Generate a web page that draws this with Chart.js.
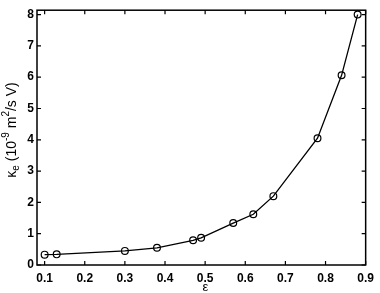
<!DOCTYPE html>
<html><head><meta charset="utf-8">
<script src="https://cdn.jsdelivr.net/npm/chart.js@4/dist/chart.umd.min.js"></script>
<style>html,body{margin:0;padding:0;background:#fff}#wrap{width:380px;height:293px}</style>
</head><body><div id="wrap"><canvas id="c" width="380" height="293"></canvas></div>
<script>
const epsilon = [0.10, 0.13, 0.30, 0.38, 0.47, 0.49, 0.57, 0.62, 0.67, 0.78, 0.84, 0.88];
const kappa   = [0.33, 0.34, 0.45, 0.55, 0.79, 0.87, 1.34, 1.62, 2.20, 4.05, 6.06, 8.00];
const xTicks = [0.1, 0.2, 0.3, 0.4, 0.5, 0.6, 0.7, 0.8, 0.9];
const yTicks = [0, 1, 2, 3, 4, 5, 6, 7, 8];
const xLabel = 'ε';

const frame = {
  id: 'frame',
  afterDraw(chart) {
    const {ctx, chartArea: a, scales: {x, y}} = chart;
    ctx.save();
    ctx.strokeStyle = '#000';
    ctx.lineWidth = 1.5;
    ctx.strokeRect(a.left, a.top, a.right - a.left, a.bottom - a.top);
    ctx.lineWidth = 1.2;
    const L = 4;
    ctx.beginPath();
    xTicks.forEach(v => {
      const px = x.getPixelForValue(v);
      ctx.moveTo(px, a.bottom); ctx.lineTo(px, a.bottom - L);
      ctx.moveTo(px, a.top); ctx.lineTo(px, a.top + L);
    });
    yTicks.forEach(v => {
      const py = y.getPixelForValue(v);
      ctx.moveTo(a.left, py); ctx.lineTo(a.left + L, py);
      ctx.moveTo(a.right, py); ctx.lineTo(a.right - L, py);
    });
    ctx.stroke();
    // x label
    ctx.fillStyle = '#000';
    ctx.font = '13px "Liberation Sans", Arial, sans-serif';
    ctx.textAlign = 'center';
    ctx.textBaseline = 'middle';
    ctx.fillText(xLabel, (a.left + a.right) / 2 + 4, 287);
    // y label with sub/superscripts
    ctx.translate(12, 130);
    ctx.rotate(-Math.PI / 2);
    const parts = [
      ['κ', 14, 0], ['e', 10, 4], [' (10', 14, 0], ['-9', 10, -6], [' m', 14, 0], ['2', 10, -6], ['/s V)', 14, 0]
    ];
    let w = 0;
    parts.forEach(p => { ctx.font = p[1] + 'px "Liberation Sans", Arial, sans-serif'; w += ctx.measureText(p[0]).width; });
    let cx = -w / 2;
    ctx.textAlign = 'left';
    parts.forEach(p => {
      ctx.font = p[1] + 'px "Liberation Sans", Arial, sans-serif';
      ctx.fillText(p[0], cx, p[2]);
      cx += ctx.measureText(p[0]).width;
    });
    ctx.restore();
  }
};

new Chart(document.getElementById('c'), {
  type: 'scatter',
  data: {
    datasets: [{
      data: epsilon.map((e, i) => ({x: e, y: kappa[i]})),
      showLine: true,
      borderColor: '#000',
      borderWidth: 1.3,
      pointRadius: 3.4,
      pointBorderWidth: 1.2,
      pointBorderColor: '#000',
      pointBackgroundColor: 'rgba(0,0,0,0)',
      tension: 0
    }]
  },
  plugins: [frame],
  options: {
    responsive: false,
    animation: false,
    layout: {padding: {top: 4, right: 10, left: 0, bottom: 0}},
    plugins: {legend: {display: false}, tooltip: {enabled: false}},
    scales: {
      x: {
        type: 'linear', min: 0.081, max: 0.9,
        afterBuildTicks: s => { s.ticks = xTicks.map(v => ({value: v})); },
        afterFit: s => { s.height = 28; },
        grid: {display: false, drawTicks: false},
        border: {display: false},
        ticks: {color: '#000', padding: 6, font: {size: 12, weight: 'bold', family: '"Liberation Sans", Arial, sans-serif'}, callback: v => v.toFixed(1), maxRotation: 0, autoSkip: false}
      },
      y: {
        type: 'linear', min: 0, max: 8.14,
        afterBuildTicks: s => { s.ticks = yTicks.map(v => ({value: v})); },
        afterFit: s => { s.width = 37; },
        grid: {display: false, drawTicks: false},
        border: {display: false},
        ticks: {color: '#000', padding: 3, font: {size: 12, weight: 'bold', family: '"Liberation Sans", Arial, sans-serif'}, autoSkip: false}
      }
    }
  }
});
</script>
</body></html>
